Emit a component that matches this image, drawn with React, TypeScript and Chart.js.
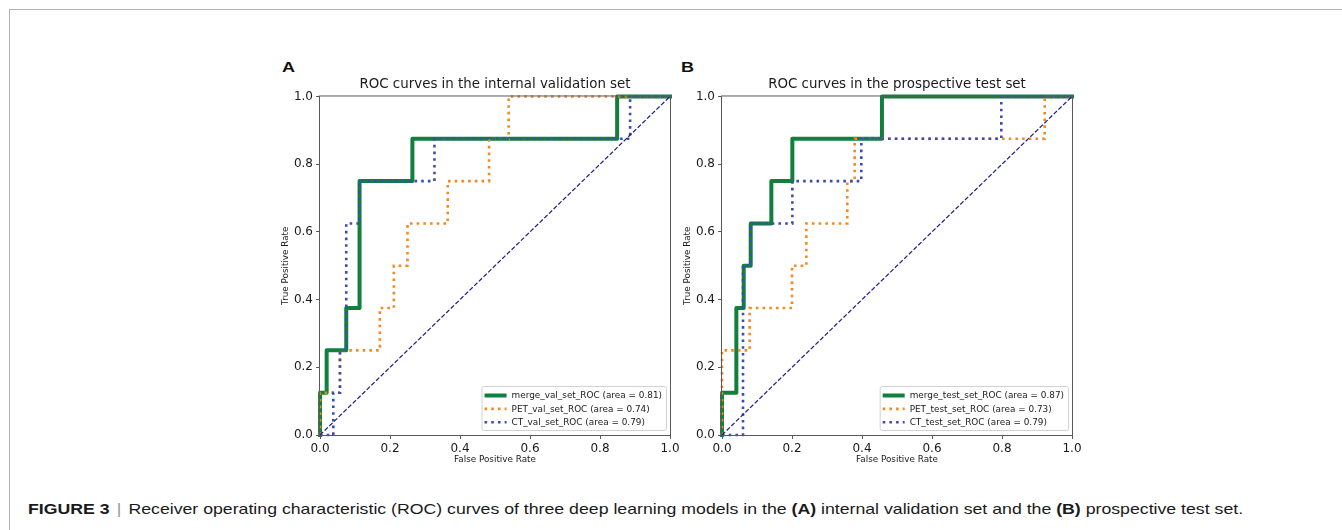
import React, { useEffect, useRef } from "react";
import { Chart, registerables } from "chart.js";

Chart.register(...registerables);

// ---- Data ----
const axisTicks = [0, 0.2, 0.4, 0.6, 0.8, 1.0];
const diagonalX = [0, 1];
const diagonalY = [0, 1];

// Panel A: internal validation set
const titleA = "ROC curves in the internal validation set";
const mergeValFpr = [0, 0, 0.019, 0.019, 0.075, 0.075, 0.113, 0.113, 0.264, 0.264, 0.849, 0.849, 1];
const mergeValTpr = [0, 0.125, 0.125, 0.25, 0.25, 0.375, 0.375, 0.75, 0.75, 0.875, 0.875, 1, 1];
const petValFpr = [0, 0, 0.057, 0.057, 0.171, 0.171, 0.211, 0.211, 0.25, 0.25, 0.365, 0.365, 0.483, 0.483, 0.539, 0.539, 1];
const petValTpr = [0, 0.125, 0.125, 0.25, 0.25, 0.375, 0.375, 0.5, 0.5, 0.625, 0.625, 0.75, 0.75, 0.875, 0.875, 1, 1];
const ctValFpr = [0, 0.038, 0.038, 0.057, 0.057, 0.075, 0.075, 0.113, 0.113, 0.327, 0.327, 0.886, 0.886, 1];
const ctValTpr = [0, 0, 0.125, 0.125, 0.25, 0.25, 0.625, 0.625, 0.75, 0.75, 0.875, 0.875, 1, 1];
const labelsA = [
  "merge_val_set_ROC (area = 0.81)",
  "PET_val_set_ROC (area = 0.74)",
  "CT_val_set_ROC (area = 0.79)",
];

// Panel B: prospective test set
const titleB = "ROC curves in the prospective test set";
const mergeTestFpr = [0, 0, 0.041, 0.041, 0.062, 0.062, 0.082, 0.082, 0.141, 0.141, 0.201, 0.201, 0.457, 0.457, 1];
const mergeTestTpr = [0, 0.125, 0.125, 0.375, 0.375, 0.5, 0.5, 0.625, 0.625, 0.75, 0.75, 0.875, 0.875, 1, 1];
const petTestFpr = [0, 0, 0.079, 0.079, 0.2, 0.2, 0.241, 0.241, 0.358, 0.358, 0.379, 0.379, 0.922, 0.922, 1];
const petTestTpr = [0, 0.25, 0.25, 0.375, 0.375, 0.5, 0.5, 0.625, 0.625, 0.75, 0.75, 0.875, 0.875, 1, 1];
const ctTestFpr = [0, 0.06, 0.06, 0.082, 0.082, 0.201, 0.201, 0.398, 0.398, 0.798, 0.798, 1];
const ctTestTpr = [0, 0, 0.5, 0.5, 0.625, 0.625, 0.75, 0.75, 0.875, 0.875, 1, 1];
const labelsB = [
  "merge_test_set_ROC (area = 0.87)",
  "PET_test_set_ROC (area = 0.73)",
  "CT_test_set_ROC (area = 0.79)",
];

// ---- Styles ----
const GREEN = "#127f3c";
const ORANGE = "#f5891f";
const BLUE = "#3d4cb3";
const NAVY = "#1c1c85";
const SPINE = "#5a5a5a";
const TEXT = "#1a1a1a";
const FONT = "'DejaVu Sans', sans-serif";

const toPoints = (xs: number[], ys: number[]) => xs.map((x, i) => ({ x, y: ys[i] }));

const rocPlugin = {
  id: "rocFrameLegend",
  afterDatasetsDraw(chart: any) {
    const { ctx, chartArea: a } = chart;
    ctx.save();
    ctx.strokeStyle = SPINE;
    ctx.lineWidth = 1;
    ctx.setLineDash([]);
    ctx.strokeRect(a.left - 0.5, a.top - 0.5, a.right - a.left + 1, a.bottom - a.top + 1);

    const items = chart.data.datasets.filter((d: any) => d.label);
    const fontSize = 8.9;
    ctx.font = `${fontSize}px ${FONT}`;
    const textW = Math.max(...items.map((d: any) => ctx.measureText(d.label).width));
    const padL = 2.5, handle = 22, gap = 5, padR = 4.5;
    const w = padL + handle + gap + textW + padR;
    const h = 44;
    const right = a.right - 3.5;
    const bottom = a.bottom - 4.5;
    const left = right - w;
    const top = bottom - h;
    ctx.beginPath();
    if ((ctx as any).roundRect) (ctx as any).roundRect(left, top, w, h, 2);
    else ctx.rect(left, top, w, h);
    ctx.fillStyle = "rgba(255,255,255,0.85)";
    ctx.fill();
    ctx.strokeStyle = "#d2d2d2";
    ctx.lineWidth = 1;
    ctx.stroke();
    items.forEach((d: any, i: number) => {
      const y = top + 9 + i * 13.35;
      ctx.beginPath();
      ctx.setLineDash(d.borderDash || []);
      ctx.lineCap = "butt";
      ctx.lineWidth = d.borderWidth;
      ctx.strokeStyle = d.borderColor;
      ctx.moveTo(left + padL, y);
      ctx.lineTo(left + padL + handle, y);
      ctx.stroke();
      ctx.setLineDash([]);
      ctx.fillStyle = TEXT;
      ctx.textBaseline = "middle";
      ctx.textAlign = "left";
      ctx.fillText(d.label, left + padL + handle + gap, y + 0.5);
    });
    ctx.restore();
  },
};

function makeScale(axisTitle: string, isX: boolean) {
  return {
    type: "linear",
    min: 0,
    max: 1,
    afterBuildTicks: (s: any) => {
      s.ticks = axisTicks.map((v) => ({ value: v }));
    },
    afterFit: (s: any) => {
      if (isX) s.height = 35;
      else s.width = 70;
    },
    grid: {
      drawOnChartArea: false,
      drawTicks: true,
      tickLength: 4,
      color: SPINE,
      lineWidth: 1,
    },
    border: { display: false },
    ticks: {
      padding: isX ? 2.5 : 3,
      color: TEXT,
      font: { family: FONT, size: 12 },
      callback: (v: any) => Number(v).toFixed(1),
      maxRotation: 0,
      autoSkip: false,
    },
    title: {
      display: true,
      text: axisTitle,
      color: TEXT,
      font: { family: FONT, size: 8.8 },
      padding: isX ? { top: 0, bottom: 4.8 } : { top: 30.7, bottom: 0 },
    },
  };
}

function RocPanel(props: {
  left: number;
  title: string;
  series: { fpr: number[]; tpr: number[] }[];
  labels: string[];
}) {
  const ref = useRef<HTMLCanvasElement>(null);
  useEffect(() => {
    const [merge, pet, ct] = props.series;
    const chart = new Chart(ref.current as HTMLCanvasElement, {
      type: "scatter",
      data: {
        datasets: [
          {
            label: props.labels[0],
            data: toPoints(merge.fpr, merge.tpr),
            showLine: true,
            borderColor: GREEN,
            borderWidth: 4,
            borderDash: [],
            borderCapStyle: "square",
            borderJoinStyle: "round",
            pointRadius: 0,
            fill: false,
            tension: 0,
            clip: false,
            order: 4,
          },
          {
            label: props.labels[1],
            data: toPoints(pet.fpr, pet.tpr),
            showLine: true,
            borderColor: ORANGE,
            borderWidth: 2.6,
            borderDash: [2.6, 4.1],
            borderCapStyle: "butt",
            pointRadius: 0,
            fill: false,
            tension: 0,
            clip: false,
            order: 3,
          },
          {
            label: props.labels[2],
            data: toPoints(ct.fpr, ct.tpr),
            showLine: true,
            borderColor: BLUE,
            borderWidth: 2.6,
            borderDash: [2.6, 4.1],
            borderCapStyle: "butt",
            pointRadius: 0,
            fill: false,
            tension: 0,
            clip: false,
            order: 2,
          },
          {
            label: "",
            data: toPoints(diagonalX, diagonalY),
            showLine: true,
            borderColor: NAVY,
            borderWidth: 1.2,
            borderDash: [4.5, 2],
            pointRadius: 0,
            fill: false,
            tension: 0,
            clip: false,
            order: 1,
          },
        ],
      } as any,
      options: {
        responsive: false,
        animation: false,
        events: [],
        layout: { padding: { left: 0, top: 0, right: 20, bottom: 0 } },
        plugins: {
          legend: { display: false },
          tooltip: { enabled: false },
          title: {
            display: true,
            text: props.title,
            fullSize: false,
            color: TEXT,
            font: { family: FONT, size: 13.4, weight: "normal" },
            padding: { top: 16, bottom: 4.4 },
          },
        },
        scales: {
          x: makeScale("False Positive Rate", true),
          y: makeScale("True Positive Rate", false),
        } as any,
      } as any,
      plugins: [rocPlugin],
    });
    return () => chart.destroy();
  }, []);
  return (
    <canvas
      ref={ref}
      width={440}
      height={410}
      style={{ position: "absolute", left: props.left, top: 60, width: 440, height: 410 }}
    />
  );
}

export default function App() {
  const panelLetter = (text: string, left: number) => (
    <div
      style={{
        position: "absolute",
        left,
        top: 59,
        fontFamily: "'Liberation Sans', Arial, sans-serif",
        fontWeight: "bold",
        fontSize: 15,
        lineHeight: "15px",
        color: "#111",
        transform: "scaleX(1.2)",
        transformOrigin: "left top",
      }}
    >
      {text}
    </div>
  );
  return (
    <div
      style={{
        position: "absolute",
        left: 0,
        top: 0,
        width: 1342,
        height: 530,
        overflow: "hidden",
        background: "#fff",
      }}
    >
      <div
        style={{
          position: "absolute",
          left: 9,
          top: 9,
          width: 1340,
          height: 530,
          borderTop: "1px solid #b4b4b4",
          borderLeft: "1px solid #b4b4b4",
        }}
      />
      {panelLetter("A", 282)}
      {panelLetter("B", 681)}
      <RocPanel
        left={250}
        title={titleA}
        series={[
          { fpr: mergeValFpr, tpr: mergeValTpr },
          { fpr: petValFpr, tpr: petValTpr },
          { fpr: ctValFpr, tpr: ctValTpr },
        ]}
        labels={labelsA}
      />
      <RocPanel
        left={652}
        title={titleB}
        series={[
          { fpr: mergeTestFpr, tpr: mergeTestTpr },
          { fpr: petTestFpr, tpr: petTestTpr },
          { fpr: ctTestFpr, tpr: ctTestTpr },
        ]}
        labels={labelsB}
      />
      <div
        style={{
          position: "absolute",
          left: 28,
          top: 501,
          whiteSpace: "nowrap",
          fontFamily: "'Liberation Sans', Arial, sans-serif",
          fontSize: 15,
          lineHeight: "15px",
          color: "#1a1a1a",
          transform: "scaleX(1.18)",
          transformOrigin: "left top",
        }}
      >
        <b>FIGURE 3</b>
        <span style={{ color: "#999", margin: "0 6px" }}>|</span>
        Receiver operating characteristic (ROC) curves of three deep learning models in the <b>(A)</b> internal
        validation set and the <b>(B)</b> prospective test set.
      </div>
    </div>
  );
}
